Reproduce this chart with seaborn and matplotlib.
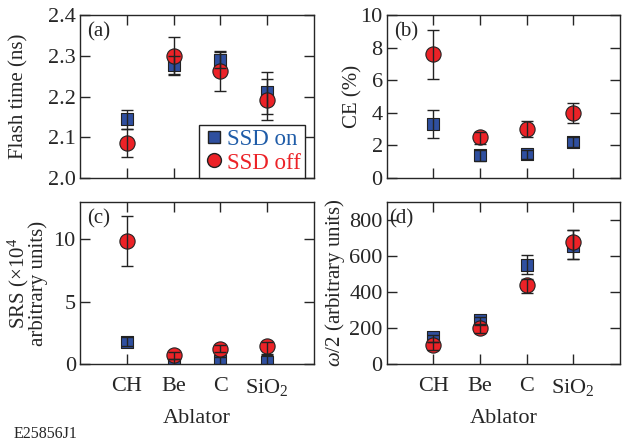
import matplotlib
matplotlib.use("Agg")
import matplotlib.pyplot as plt
import pandas as pd
import seaborn as sns
from matplotlib.lines import Line2D

# Ablator categories
ablators = ["CH", "Be", "C", "SiO$_2$"]
xpos = [1, 2, 3, 4]

# (a) Flash time (ns)
flash_on = [2.145, 2.278, 2.290, 2.212]
flash_on_lo = [2.121, 2.255, 2.270, 2.158]
flash_on_hi = [2.166, 2.300, 2.310, 2.242]
flash_off = [2.085, 2.300, 2.262, 2.191]
flash_off_lo = [2.052, 2.252, 2.214, 2.142]
flash_off_hi = [2.121, 2.345, 2.312, 2.261]

# (b) CE (%)
ce_on = [3.3, 1.4, 1.5, 2.2]
ce_on_lo = [2.45, 1.05, 1.2, 1.9]
ce_on_hi = [4.2, 1.7, 1.75, 2.5]
ce_off = [7.6, 2.5, 3.0, 4.0]
ce_off_lo = [6.1, 2.1, 2.5, 3.4]
ce_off_hi = [9.1, 2.85, 3.5, 4.6]

# (c) SRS (x10^4 arbitrary units)
srs_on = [1.8, 0.2, 0.25, 0.2]
srs_on_lo = [1.45, 0.0, 0.0, 0.0]
srs_on_hi = [2.2, 0.45, 0.6, 0.7]
srs_off = [9.9, 0.75, 1.25, 1.45]
srs_off_lo = [7.9, 0.45, 1.0, 0.85]
srs_off_hi = [11.9, 1.0, 1.5, 1.8]

# (d) omega/2 (arbitrary units)
w2_on = [150, 243, 553, 658]
w2_on_lo = [123, 216, 501, 581]
w2_on_hi = [160, 262, 608, 745]
w2_off = [105, 201, 440, 680]
w2_off_lo = [81, 173, 394, 581]
w2_off_hi = [123, 225, 474, 745]

blue = "#2f4f9f"
red = "#ec2227"
blue_txt = "#1f5ca8"

sns.set_style("ticks")
plt.rcParams["font.family"] = ["Liberation Serif", "DejaVu Serif"]
plt.rcParams["mathtext.fontset"] = "custom"
plt.rcParams["mathtext.rm"] = "Liberation Serif"
plt.rcParams["mathtext.it"] = "Liberation Serif:italic"
plt.rcParams["axes.linewidth"] = 1.0

fs = 16      # tick labels, x labels
fs_y = 15    # y-axis labels
fs_tag = 15  # panel tags

fig = plt.figure(figsize=(6.23, 4.43), dpi=100)
ax_a = fig.add_axes([0.1284, 0.598, 0.3756, 0.368])
ax_b = fig.add_axes([0.621, 0.598, 0.374, 0.368])
ax_c = fig.add_axes([0.1284, 0.178, 0.3756, 0.366])
ax_d = fig.add_axes([0.621, 0.178, 0.374, 0.366])


def panel(ax, on, on_lo, on_hi, off, off_lo, off_hi, ylim, yticks, ylabel, tag, bottom):
    df = pd.DataFrame({
        "x": xpos * 2,
        "y": on + off,
        "SSD": ["on"] * 4 + ["off"] * 4,
    })
    sns.scatterplot(data=df[df.SSD == "on"], x="x", y="y", ax=ax, marker="s", s=85,
                    color=blue, edgecolor="#222222", linewidth=0.8, legend=False, zorder=3)
    sns.scatterplot(data=df[df.SSD == "off"], x="x", y="y", ax=ax, marker="o", s=120,
                    color=red, edgecolor="#222222", linewidth=0.8, legend=False, zorder=4)
    for vals, lo, hi in [(on, on_lo, on_hi), (off, off_lo, off_hi)]:
        err = [[v - l for v, l in zip(vals, lo)], [h - v for v, h in zip(vals, hi)]]
        ax.errorbar(xpos, vals, yerr=err, fmt="none", ecolor="#222222",
                    elinewidth=1.0, capsize=4, capthick=1.0, zorder=5)
    ax.set_xlim(0, 5)
    ax.set_ylim(*ylim)
    ax.set_yticks(yticks)
    ax.set_xticks(xpos)
    if bottom:
        ax.set_xticklabels(ablators, fontsize=fs)
        ax.set_xlabel("Ablator", fontsize=fs, labelpad=8)
    else:
        ax.set_xticklabels([])
        ax.set_xlabel("")
    ax.set_ylabel(ylabel, fontsize=fs_y)
    ax.tick_params(direction="in", top=True, right=True, length=7, width=1.0,
                   labelsize=fs, pad=3)
    ax.tick_params(axis="x", pad=9)
    ax.text(0.03, 0.955, tag, transform=ax.transAxes, fontsize=fs_tag, va="top", ha="left")


panel(ax_a, flash_on, flash_on_lo, flash_on_hi, flash_off, flash_off_lo, flash_off_hi,
      (2.0, 2.4), [2.0, 2.1, 2.2, 2.3, 2.4], "Flash time (ns)", "(a)", False)
ax_a.set_yticklabels(["2.0", "2.1", "2.2", "2.3", "2.4"])
panel(ax_b, ce_on, ce_on_lo, ce_on_hi, ce_off, ce_off_lo, ce_off_hi,
      (0, 10), [0, 2, 4, 6, 8, 10], "CE (%)", "(b)", False)
panel(ax_c, srs_on, srs_on_lo, srs_on_hi, srs_off, srs_off_lo, srs_off_hi,
      (0, 13), [0, 5, 10], "SRS (\u00d710$^4$\narbitrary units)", "(c)", True)
ax_c.yaxis.label.set_linespacing(0.8)
panel(ax_d, w2_on, w2_on_lo, w2_on_hi, w2_off, w2_off_lo, w2_off_hi,
      (0, 900), [0, 200, 400, 600, 800], "$\\omega$/2 (arbitrary units)", "(d)", True)
ax_d.texts[0].set_position((0.01, 0.955))

ax_a.yaxis.set_label_coords(-0.222, 0.5)
ax_c.yaxis.set_label_coords(-0.137, 0.5)
ax_b.yaxis.set_label_coords(-0.105, 0.5)
ax_d.yaxis.set_label_coords(-0.172, 0.5)

handles = [
    Line2D([], [], marker="s", color=blue, markeredgecolor="#222222", linestyle="none", markersize=8.5),
    Line2D([], [], marker="o", color=red, markeredgecolor="#222222", linestyle="none", markersize=10),
]
leg = ax_a.legend(handles, ["SSD on", "SSD off"], loc="lower right",
                  bbox_to_anchor=(0.963, 0.0), fontsize=16.5,
                  frameon=True, fancybox=False, edgecolor="#222222", framealpha=1,
                  handletextpad=0.1, handlelength=0.9, borderaxespad=0.0,
                  borderpad=0.2, labelspacing=0.1)
leg.get_frame().set_linewidth(1.0)
leg.get_texts()[0].set_color(blue_txt)
leg.get_texts()[1].set_color(red)

fig.text(0.022, 0.012, "E25856J1", fontsize=11.5)

fig.savefig("out.png", dpi=100)
